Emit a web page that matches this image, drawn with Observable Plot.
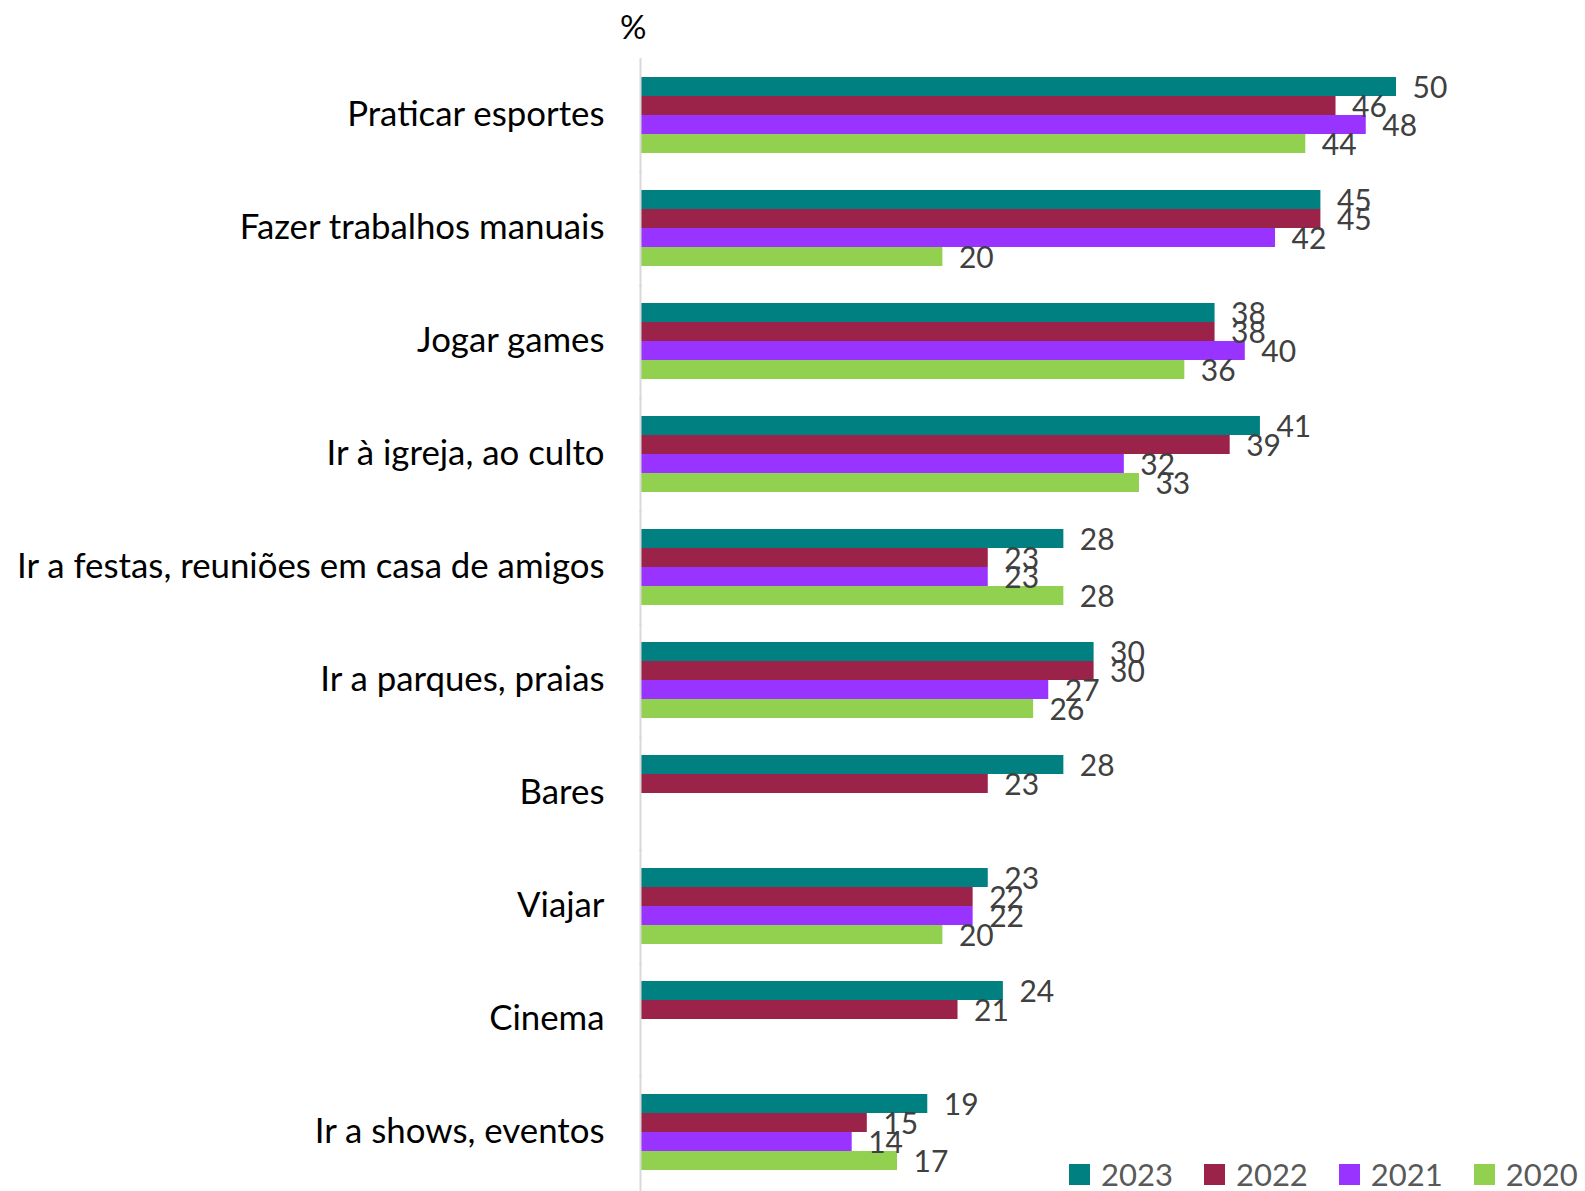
<!DOCTYPE html>
<html><head><meta charset="utf-8">
<script src="https://cdn.jsdelivr.net/npm/d3@7"></script>
<script src="https://cdn.jsdelivr.net/npm/@observablehq/plot@0.6"></script>
<style>
body{margin:0;background:#fff;}
#wrap{position:relative;width:1585px;height:1191px;font-family:Lato, sans-serif;overflow:hidden;}
#pct{position:absolute;left:620px;top:6px;font-size:33px;color:#000;font-family:Lato, sans-serif;}
#legend{position:absolute;left:1069px;top:1159px;width:516px;white-space:nowrap;}
.lg-swatches{font-family:Lato, sans-serif !important;font-size:31px !important;line-height:31px !important;color:#595959 !important;margin:0 !important;min-height:0 !important;flex-wrap:nowrap !important;white-space:nowrap !important;}
.lg-swatch{margin-right:31px !important;}
.lg-swatch:last-child{margin-right:0 !important;}
.lg-swatch > svg{margin-right:11px !important;}
</style>
</head><body>
<div id="wrap"><div id="chart"></div><div id="pct">%</div><div id="legend"></div></div>
<script>
const categories = [
  "Praticar esportes",
  "Fazer trabalhos manuais",
  "Jogar games",
  "Ir à igreja, ao culto",
  "Ir a festas, reuniões em casa de amigos",
  "Ir a parques, praias",
  "Bares",
  "Viajar",
  "Cinema",
  "Ir a shows, eventos"
];
const years = ["2023", "2022", "2021", "2020"];
const v2023 = [50, 45, 38, 41, 28, 30, 28, 23, 24, 19];
const v2022 = [46, 45, 38, 39, 23, 30, 23, 22, 21, 15];
const v2021 = [48, 42, 40, 32, 23, 27, null, 22, null, 14];
const v2020 = [44, 20, 36, 33, 28, 26, null, 20, null, 17];
const colors = ["#008080", "#9B2249", "#9933FF", "#92D050"];

const series = [v2023, v2022, v2021, v2020];
const rows = [];
categories.forEach((c, i) => {
  years.forEach((y, j) => {
    const v = series[j][i];
    if (v != null) rows.push({cat: c, year: y, value: v});
  });
});

const chart = Plot.plot({
  width: 1585,
  height: 1191,
  marginLeft: 640,
  marginRight: 0,
  marginTop: 58,
  marginBottom: 3,
  style: {fontFamily: "Lato, sans-serif", fontSize: "34.8px", color: "#000", background: "#fff"},
  x: {domain: [0, 62.5], axis: null},
  y: {domain: years, padding: 0, axis: null},
  fy: {domain: categories, paddingInner: 0.32, paddingOuter: 0.16, label: null, tickSize: 0, tickPadding: 36},
  color: {domain: years, range: colors},
  marks: [
    Plot.barX(rows, {fy: "cat", y: "year", x: "value", fill: "year"}),
    Plot.text(rows, {fy: "cat", y: "year", x: "value", text: d => String(d.value), dx: 16, dy: 1, textAnchor: "start", fill: "#404040", fontSize: 30}),
    Plot.ruleX([0], {stroke: "#d9d9d9", strokeWidth: 2, insetTop: -18, insetBottom: -21})
  ]
});
document.getElementById("chart").appendChild(chart);

const legend = Plot.legend({
  color: {domain: years, range: colors},
  legend: "swatches",
  swatchSize: 21,
  className: "lg"
});
document.getElementById("legend").appendChild(legend);
</script>
</body></html>
